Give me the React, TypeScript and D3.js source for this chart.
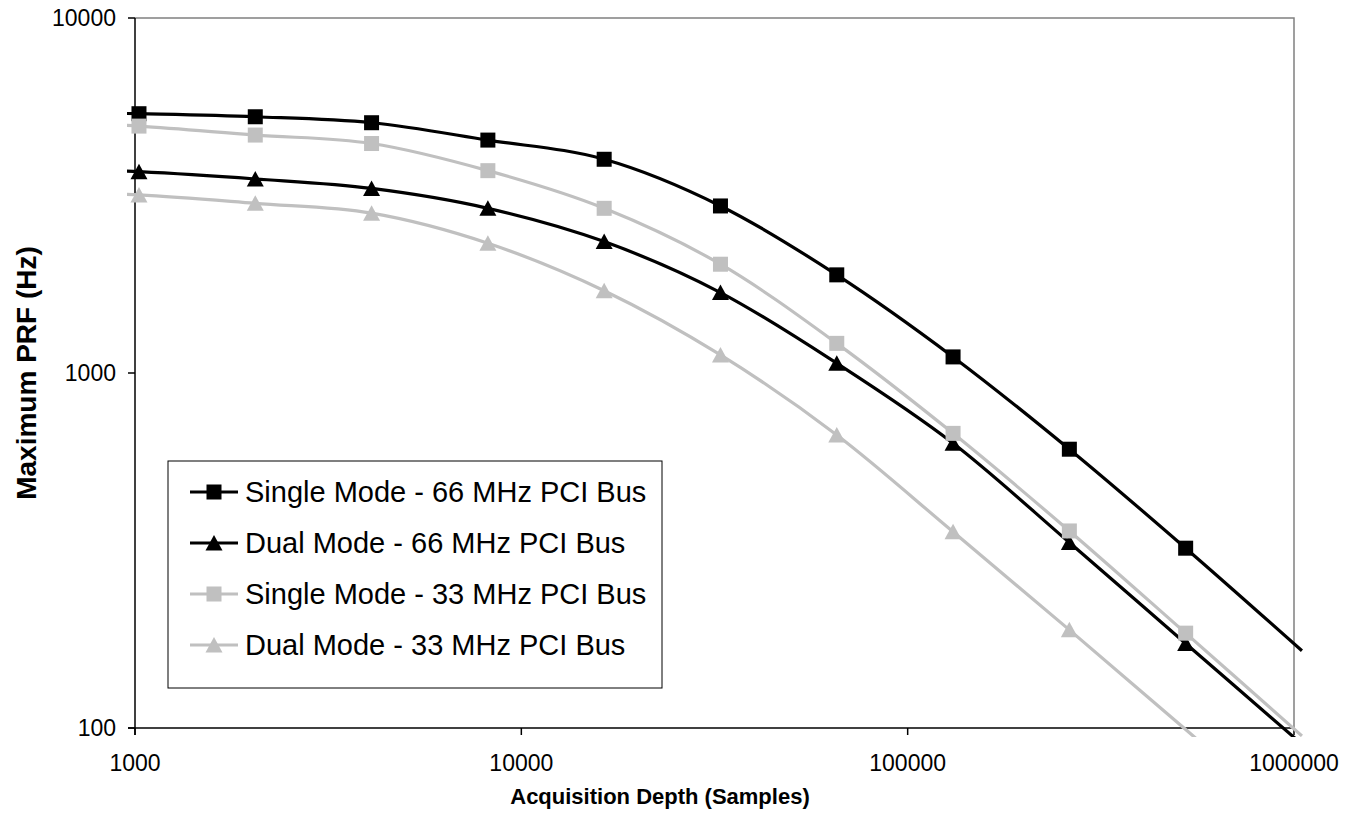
import React, { useEffect, useRef } from "react";
import * as d3 from "d3";

// acquisition depth in samples (first and last points fall outside the axis range)
const depths = [512, 1024, 2048, 4096, 8192, 16384, 32768, 65536, 131072, 262144, 524288, 1048576];

const single66 = [5450, 5375, 5270, 5070, 4530, 4000, 2955, 1890, 1110, 610, 321, 165];
const dual66 = [3790, 3690, 3520, 3310, 2910, 2345, 1685, 1065, 634, 333, 173, 90];
const single33 = [5150, 4960, 4680, 4430, 3715, 2910, 2025, 1212, 676, 359, 185, 95];
const dual33 = [3250, 3175, 3005, 2820, 2320, 1705, 1124, 669, 357, 189, 99, 52];

const seriesNames = [
  "Single Mode - 66 MHz PCI Bus",
  "Dual Mode - 66 MHz PCI Bus",
  "Single Mode - 33 MHz PCI Bus",
  "Dual Mode - 33 MHz PCI Bus",
];

const xTicks = [1000, 10000, 100000, 1000000];
const yTicks = [100, 1000, 10000];

const App = () => {
  const chartRef = useRef<SVGSVGElement>(null);

  useEffect(() => {
    const width = 1355;
    const height = 825;
    const plot = { left: 135, right: 1294, top: 18, bottom: 728 };
    const font = "Arial, 'Liberation Sans', sans-serif";

    const svg = d3.select(chartRef.current);
    svg.selectAll("*").remove();
    svg.attr("width", width).attr("height", height);

    const x = d3.scaleLog().domain([1000, 1000000]).range([plot.left, plot.right]);
    const y = d3.scaleLog().domain([100, 10000]).range([plot.bottom, plot.top]);

    const series = [
      { name: seriesNames[0], values: single66, color: "#000000", marker: "square" },
      { name: seriesNames[1], values: dual66, color: "#000000", marker: "triangle" },
      { name: seriesNames[2], values: single33, color: "#C0C0C0", marker: "square" },
      { name: seriesNames[3], values: dual33, color: "#C0C0C0", marker: "triangle" },
    ];

    // Excel lets lines run a few pixels past the plot area
    svg
      .append("defs")
      .append("clipPath")
      .attr("id", "plot-clip")
      .append("rect")
      .attr("x", plot.left - 8)
      .attr("y", plot.top - 9)
      .attr("width", plot.right - plot.left + 17)
      .attr("height", plot.bottom - plot.top + 18);

    // plot frame: grey top/right, black axes
    svg
      .append("path")
      .attr("d", `M${plot.left},${plot.top}H${plot.right}V${plot.bottom}`)
      .attr("fill", "none")
      .attr("stroke", "#808080")
      .attr("stroke-width", 1.5);

    svg
      .append("line")
      .attr("x1", plot.left)
      .attr("x2", plot.left)
      .attr("y1", plot.top)
      .attr("y2", plot.bottom + 7)
      .attr("stroke", "#000")
      .attr("stroke-width", 1.5);
    svg
      .append("line")
      .attr("x1", plot.left - 7)
      .attr("x2", plot.right)
      .attr("y1", plot.bottom)
      .attr("y2", plot.bottom)
      .attr("stroke", "#000")
      .attr("stroke-width", 1.5);

    // y ticks
    const yAxis = svg.append("g");
    yTicks.forEach((t) => {
      yAxis
        .append("line")
        .attr("x1", plot.left - 7)
        .attr("x2", plot.left)
        .attr("y1", y(t))
        .attr("y2", y(t))
        .attr("stroke", "#000")
        .attr("stroke-width", 1.5);
      yAxis
        .append("text")
        .attr("x", 116)
        .attr("y", y(t))
        .attr("dy", "0.36em")
        .attr("text-anchor", "end")
        .attr("font-family", font)
        .attr("font-size", 23)
        .text(t);
    });

    // x ticks
    const xAxis = svg.append("g");
    xTicks.forEach((t) => {
      xAxis
        .append("line")
        .attr("x1", x(t))
        .attr("x2", x(t))
        .attr("y1", plot.bottom)
        .attr("y2", plot.bottom + 7)
        .attr("stroke", "#000")
        .attr("stroke-width", 1.5);
      xAxis
        .append("text")
        .attr("x", x(t))
        .attr("y", 771)
        .attr("text-anchor", "middle")
        .attr("font-family", font)
        .attr("font-size", 23)
        .text(t);
    });

    // axis titles
    svg
      .append("text")
      .attr("x", 660)
      .attr("y", 804)
      .attr("text-anchor", "middle")
      .attr("font-family", font)
      .attr("font-weight", "bold")
      .attr("font-size", 22)
      .text("Acquisition Depth (Samples)");

    svg
      .append("text")
      .attr("transform", `translate(36,${(plot.top + plot.bottom) / 2}) rotate(-90)`)
      .attr("text-anchor", "middle")
      .attr("font-family", font)
      .attr("font-weight", "bold")
      .attr("font-size", 28)
      .text("Maximum PRF (Hz)");

    const line = d3
      .line<number>()
      .x((d, i) => x(depths[i]))
      .y((d) => y(d))
      .curve(d3.curveCatmullRom.alpha(0));

    const drawMarker = (g: any, kind: string, color: string, cx: number, cy: number) => {
      if (kind === "square") {
        g.append("rect")
          .attr("x", cx - 7.5)
          .attr("y", cy - 7.5)
          .attr("width", 15)
          .attr("height", 15)
          .attr("fill", color);
      } else {
        g.append("path")
          .attr("d", `M${cx},${cy - 8}L${cx + 8.5},${cy + 7.5}L${cx - 8.5},${cy + 7.5}Z`)
          .attr("fill", color);
      }
    };

    const lines = svg.append("g").attr("clip-path", "url(#plot-clip)");
    series.forEach((s) => {
      const g = lines.append("g");
      g.append("path")
        .attr("d", line(s.values))
        .attr("fill", "none")
        .attr("stroke", s.color)
        .attr("stroke-width", 3.2);
      // markers only for points inside the axis range
      s.values.forEach((v, i) => {
        const d = depths[i];
        if (d < 1000 || d > 1000000 || v < 100 || v > 10000) return;
        drawMarker(g, s.marker, s.color, x(d), y(v));
      });
    });

    // legend
    const legend = svg.append("g");
    legend
      .append("rect")
      .attr("x", 168)
      .attr("y", 461)
      .attr("width", 494)
      .attr("height", 227)
      .attr("fill", "#fff")
      .attr("stroke", "#000")
      .attr("stroke-width", 1);

    series.forEach((s, i) => {
      const ly = 492 + i * 51;
      legend
        .append("line")
        .attr("x1", 190)
        .attr("x2", 238)
        .attr("y1", ly)
        .attr("y2", ly)
        .attr("stroke", s.color)
        .attr("stroke-width", 3.2);
      drawMarker(legend, s.marker, s.color, 214, ly);
      legend
        .append("text")
        .attr("x", 245)
        .attr("y", ly)
        .attr("dy", "0.36em")
        .attr("font-family", font)
        .attr("font-size", 29)
        .text(s.name);
    });
  }, []);

  return (
    <svg
      ref={chartRef}
      style={{ position: "absolute", left: 0, top: 0, background: "#fff" }}
    ></svg>
  );
};

export default App;
